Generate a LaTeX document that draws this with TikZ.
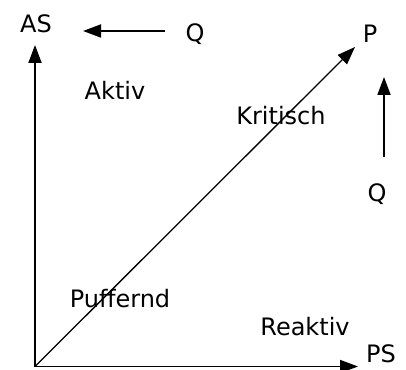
\documentclass[tikz,border=0pt]{standalone}
\usepackage{fontspec}
\setmainfont{DejaVu Sans}
\usepackage{tikz}
\usetikzlibrary{arrows.meta,positioning}
\newcommand{\lbfont}{\fontsize{24}{28}\selectfont}

\begin{document}
\begin{tikzpicture}[x=1pt,y=1pt,
    arr/.style={line width=1.8pt,-{Triangle[length=18pt,width=13pt]}},
    lbl/.style={anchor=base,inner sep=0pt,font=\lbfont}]

\useasboundingbox (0,0) rectangle (406,369);

% axes
\coordinate (O) at (35,2.5);
\coordinate (astip) at (35,324);
\coordinate (pstip) at (358,2.5);
\coordinate (ptip) at (355,322);

\draw[arr] (O) -- (astip);
\draw[arr] (O) -- (pstip);
\draw[arr,line width=1.3pt] (O) -- (ptip);

\node[lbl] (as) at (36,336) {AS};
\node[lbl] (ps) at (381,7) {PS};
\node[lbl] (p) at (370,326) {P};

% Q arrows
\node[lbl] (qtop) at (195,327) {Q};
\coordinate (qa) at (165,338);
\coordinate (qb) at (83,338);
\draw[arr] (qa) -- (qb);

\node[lbl] (qright) at (377,167) {Q};
\coordinate (qc) at (384,212);
\coordinate (qd) at (384,292);
\draw[arr] (qc) -- (qd);

% regions
\node[lbl] (aktiv) at (115,269) {Aktiv};
\node[lbl] (kritisch) at (281,244) {Kritisch};
\node[lbl] (puffernd) at (120,62) {Puffernd};
\node[lbl] (reaktiv) at (305,34) {Reaktiv};

\end{tikzpicture}
\end{document}
